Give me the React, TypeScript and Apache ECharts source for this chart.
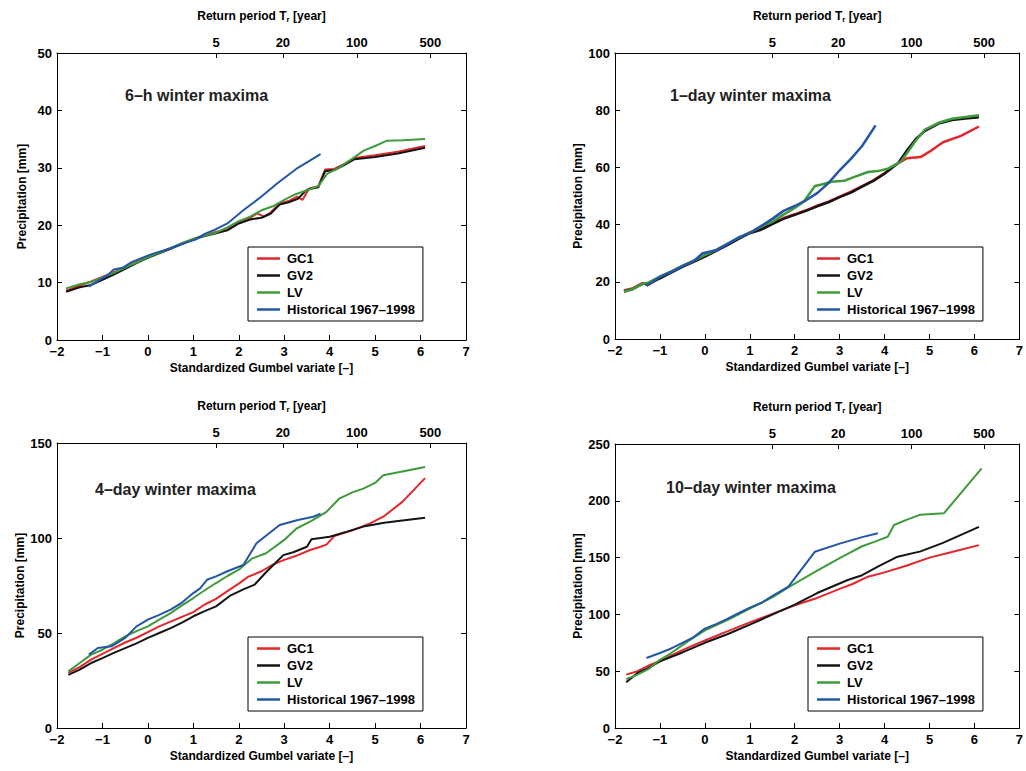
import React, { useEffect, useRef } from "react";
import * as echarts from "echarts";

const FONT = '"Liberation Sans", Arial, Helvetica, sans-serif';

const seriesNames = ["GC1", "GV2", "LV", "Historical 1967\u20131998"];
const seriesColors = ["#e3262b", "#141414", "#3f9a3c", "#2356a8"];

const panelTitles = ["6\u2013h winter maxima", "1\u2013day winter maxima", "4\u2013day winter maxima", "10\u2013day winter maxima"];
const yMax = [50, 100, 150, 250];
const yInterval = [10, 20, 50, 50];
const returnPeriods = [5, 20, 100, 500];

// 6-h winter maxima
const gc1_6h = [[-1.8,8.6],[-1.5,9.5],[-1.25,10.2],[-1.0,11.0],[-0.75,11.8],[-0.5,12.6],[-0.25,13.6],[0,14.5],[0.25,15.3],[0.5,16.0],[0.75,16.8],[1.0,17.6],[1.25,18.3],[1.5,18.8],[1.75,19.3],[2.0,20.4],[2.25,21.2],[2.4,22.1],[2.55,21.5],[2.7,22.2],[2.9,23.8],[3.1,24.2],[3.28,25.0],[3.4,24.4],[3.55,26.4],[3.75,26.8],[3.9,29.7],[4.1,29.8],[4.3,30.6],[4.55,31.7],[5.0,32.2],[5.5,32.8],[6.1,33.8]];
const gv2_6h = [[-1.8,8.4],[-1.5,9.2],[-1.25,9.6],[-1.0,10.5],[-0.75,11.4],[-0.5,12.4],[-0.25,13.4],[0,14.3],[0.25,15.1],[0.5,15.9],[0.75,16.7],[1.0,17.5],[1.25,18.1],[1.5,18.6],[1.75,19.1],[2.0,20.3],[2.25,21.0],[2.5,21.3],[2.7,22.0],[2.9,23.6],[3.1,24.0],[3.3,24.6],[3.5,26.2],[3.75,26.6],[3.9,29.4],[4.1,29.6],[4.3,30.4],[4.55,31.5],[5.0,31.9],[5.5,32.5],[6.1,33.5]];
const lv_6h = [[-1.8,9.0],[-1.5,9.7],[-1.25,10.1],[-1.0,10.9],[-0.75,11.7],[-0.5,12.6],[-0.25,13.5],[0,14.4],[0.25,15.2],[0.5,16.0],[0.75,16.9],[1.0,17.6],[1.25,18.2],[1.5,18.7],[1.75,19.6],[2.0,20.7],[2.25,21.5],[2.5,22.6],[2.75,23.3],[3.0,24.4],[3.25,25.4],[3.5,26.1],[3.75,26.8],[3.95,29.0],[4.2,30.0],[4.5,31.6],[4.75,33.0],[5.0,33.8],[5.25,34.7],[5.6,34.8],[6.1,35.0]];
const hist_6h = [[-1.3,9.3],[-1.1,10.3],[-0.9,11.2],[-0.75,12.3],[-0.55,12.6],[-0.35,13.6],[-0.1,14.4],[0.1,15.0],[0.35,15.6],[0.6,16.3],[0.85,17.0],[1.05,17.5],[1.25,18.5],[1.5,19.3],[1.75,20.3],[2.1,22.6],[2.5,25.0],[2.85,27.3],[3.3,30.0],[3.8,32.4]];

// 1-day winter maxima
const gc1_1d = [[-1.8,17.0],[-1.6,17.8],[-1.4,19.5],[-1.25,19.0],[-1.0,21.5],[-0.75,23.5],[-0.5,25.5],[-0.25,27.3],[0,29.0],[0.25,31.0],[0.5,33.0],[0.75,35.2],[1.0,37.3],[1.25,38.5],[1.5,40.5],[1.75,42.3],[2.0,43.6],[2.25,45.0],[2.5,46.6],[2.75,48.0],[3.0,49.8],[3.25,51.5],[3.5,53.5],[3.75,55.5],[4.0,58.0],[4.2,60.5],[4.5,63.2],[4.8,63.6],[5.0,65.5],[5.3,68.8],[5.7,71.0],[6.1,74.3]];
const gv2_1d = [[-1.8,16.6],[-1.6,17.5],[-1.4,19.2],[-1.25,19.4],[-1.0,21.2],[-0.75,23.2],[-0.5,25.2],[-0.25,27.0],[0,28.8],[0.25,30.8],[0.5,32.8],[0.75,35.0],[1.0,37.0],[1.25,38.2],[1.5,40.2],[1.75,42.0],[2.0,43.4],[2.25,44.8],[2.5,46.4],[2.75,47.8],[3.0,49.6],[3.25,51.2],[3.5,53.3],[3.75,55.3],[4.0,57.8],[4.3,61.5],[4.5,66.0],[4.7,70.0],[4.9,72.8],[5.2,75.3],[5.5,76.6],[5.8,77.1],[6.1,77.5]];
const lv_1d = [[-1.8,16.5],[-1.6,17.5],[-1.4,19.2],[-1.25,19.8],[-1.0,21.8],[-0.75,23.6],[-0.5,25.6],[-0.25,27.4],[0,29.3],[0.25,31.2],[0.5,33.3],[0.75,35.4],[1.0,37.2],[1.25,39.3],[1.5,41.0],[1.75,43.5],[2.0,45.8],[2.2,48.0],[2.45,53.5],[2.6,54.0],[2.82,55.0],[3.1,55.3],[3.3,56.5],[3.63,58.4],[3.85,58.7],[4.07,59.5],[4.36,62.0],[4.5,65.0],[4.7,69.5],[4.9,73.2],[5.2,75.6],[5.5,77.0],[5.8,77.6],[6.1,78.2]];
const hist_1d = [[-1.3,18.5],[-1.0,21.8],[-0.75,23.5],[-0.5,25.5],[-0.25,27.2],[-0.05,30.0],[0.25,31.0],[0.5,33.2],[0.75,35.5],[1.0,37.0],[1.25,39.5],[1.5,42.0],[1.75,44.8],[2.0,46.5],[2.25,48.5],[2.5,51.0],[2.75,54.5],[3.0,59.0],[3.25,63.0],[3.5,67.5],[3.8,74.7]];

// 4-day winter maxima
const gc1_4d = [[-1.75,29],[-1.5,32],[-1.25,36],[-1.0,39],[-0.75,42],[-0.5,45],[-0.25,47.5],[0,50.5],[0.25,53.5],[0.5,56],[0.75,58.5],[1.0,61],[1.25,65],[1.5,68],[1.75,72],[2.0,76],[2.2,79.5],[2.5,82.5],[2.75,86],[3.0,88.5],[3.25,90.5],[3.57,93.7],[3.75,95],[3.93,96.5],[4.1,101],[4.5,104],[4.89,107.7],[5.18,111.2],[5.6,119],[6.1,131.5]];
const gv2_4d = [[-1.75,28],[-1.5,30.7],[-1.25,34.2],[-1.0,36.8],[-0.75,39.5],[-0.5,42],[-0.25,44.5],[0,47.4],[0.25,50],[0.5,52.6],[0.75,55.5],[1.0,58.8],[1.25,61.5],[1.5,64],[1.8,69.5],[2.1,73],[2.35,75.5],[2.6,82],[2.8,86.7],[2.98,91],[3.2,92.5],[3.5,95.4],[3.6,99.3],[4.0,100.7],[4.4,103.5],[4.74,106],[5.2,108],[5.6,109.2],[6.1,110.7]];
const lv_4d = [[-1.75,29.8],[-1.5,34.2],[-1.25,38.6],[-1.0,41.2],[-0.75,44.5],[-0.5,48.2],[-0.25,51],[0,53.5],[0.25,57],[0.5,60.5],[0.75,64.5],[1.0,68.4],[1.25,72.5],[1.5,76.3],[1.75,80],[2.0,83.3],[2.3,89.3],[2.6,92],[3.0,99],[3.27,105],[3.6,109],[3.93,113.8],[4.22,120.9],[4.5,124],[4.74,126],[5.0,129],[5.18,133],[5.6,135],[6.1,137.4]];
const hist_4d = [[-1.3,38.6],[-1.1,42.1],[-0.8,43],[-0.5,47.4],[-0.25,53.5],[0,57],[0.25,59.5],[0.5,62.3],[0.75,66],[1.0,71],[1.15,73.5],[1.3,78],[1.5,79.8],[1.75,82.5],[2.1,85.8],[2.39,97.2],[2.9,106.8],[3.3,109.5],[3.64,111.2],[3.8,112.8]];

// 10-day winter maxima
const gc1_10d = [[-1.75,47],[-1.5,50],[-1.25,55],[-1.0,59],[-0.5,68.5],[0,77],[0.5,85],[1.0,93],[1.5,100.5],[2.0,108],[2.5,114.5],[3.0,122.5],[3.3,127],[3.63,133.2],[4.0,137],[4.5,143],[5.0,150],[5.5,155],[6.1,161]];
const gv2_10d = [[-1.75,40.2],[-1.5,48.4],[-1.25,53],[-1.0,58.7],[-0.5,66.5],[0,75],[0.5,82.5],[1.0,91],[1.5,99.8],[2.0,108.6],[2.5,118.8],[3.18,130.3],[3.5,134.5],[3.85,142],[4.29,150.8],[4.8,155.5],[5.3,163],[5.7,170],[6.1,177]];
const lv_10d = [[-1.75,43],[-1.5,47],[-1.25,52],[-1.0,60],[-0.75,66],[-0.5,73],[-0.25,79.5],[0,86],[0.5,95],[1.0,105],[1.5,115],[1.85,123.5],[2.0,127],[2.5,138.5],[3.0,149.6],[3.5,160],[3.8,164.3],[4.07,168.4],[4.21,178.7],[4.5,183.4],[4.8,187.8],[5.32,189],[6.16,228.6]];
const hist_10d = [[-1.3,61.6],[-1.0,66],[-0.75,70],[-0.5,75],[-0.25,80],[0,87.5],[0.25,91.5],[0.5,96],[0.75,101],[1.0,106],[1.25,110],[1.5,116],[1.86,124.4],[2.45,155.2],[3.0,162.3],[3.5,168],[3.85,171.4]];

const panelData = [
  [gc1_6h, gv2_6h, lv_6h, hist_6h],
  [gc1_1d, gv2_1d, lv_1d, hist_1d],
  [gc1_4d, gv2_4d, lv_4d, hist_4d],
  [gc1_10d, gv2_10d, lv_10d, hist_10d],
];

// layout (pixels)
const grids = [
  { left: 57, top: 53, width: 409, height: 287 },
  { left: 615, top: 53, width: 408, height: 286 },
  { left: 57, top: 443, width: 409, height: 285 },
  { left: 615, top: 444, width: 408, height: 284 },
];
const legendPos = [
  { left: 248, top: 247 },
  { left: 808, top: 247 },
  { left: 248, top: 637 },
  { left: 808, top: 637 },
];
const titlePos = [
  { x: 125, y: 95 },
  { x: 670, y: 95 },
  { x: 95, y: 489 },
  { x: 666, y: 487 },
];

const gumbel = (T: number) => -Math.log(-Math.log(1 - 1 / T));

export default function App() {
  const ref = useRef<HTMLDivElement>(null);
  useEffect(() => {
    if (!ref.current) return;
    const chart = echarts.init(ref.current, null, { renderer: "svg" });
    const topTicks = returnPeriods.map(gumbel);
    const labelStyle = { fontFamily: FONT, fontWeight: "bold" as const, fontSize: 13, color: "#000" };
    const nameStyle = { fontFamily: FONT, fontWeight: "bold" as const, fontSize: 12, color: "#000" };
    const line = { show: true, lineStyle: { color: "#000", width: 1 } };
    const tick = { show: true, inside: true, length: 5, lineStyle: { color: "#000" } };

    const xAxis: any[] = [];
    const yAxis: any[] = [];
    const series: any[] = [];
    const legend: any[] = [];
    const graphic: any[] = [];

    grids.forEach((g, i) => {
      xAxis.push({
        type: "value", gridIndex: i, position: "bottom", min: -2, max: 7, interval: 1,
        axisLine: { ...line, onZero: false }, axisTick: tick, splitLine: { show: false },
        axisLabel: { ...labelStyle, margin: 5, formatter: (v: number) => (v < 0 ? "\u2212" + Math.abs(v) : String(v)) },
        name: "Standardized Gumbel variate [\u2013]", nameLocation: "middle", nameGap: 22, nameTextStyle: nameStyle,
      });
      xAxis.push({
        type: "value", gridIndex: i, position: "top", min: -2, max: 7,
        axisLine: { ...line, onZero: false },
        axisTick: { ...tick, customValues: topTicks },
        splitLine: { show: false },
        axisLabel: {
          ...labelStyle, margin: 4, customValues: topTicks,
          formatter: (v: number) => {
            let best = 0;
            topTicks.forEach((t, k) => { if (Math.abs(t - v) < Math.abs(topTicks[best] - v)) best = k; });
            return String(returnPeriods[best]);
          },
        },
        name: "Return period T{s|r} [year]", nameLocation: "middle", nameGap: 30,
        nameTextStyle: { ...nameStyle, rich: { s: { fontFamily: FONT, fontWeight: "bold", fontSize: 8, color: "#000", padding: [7, 0, 0, 0] } } },
      });
      yAxis.push({
        type: "value", gridIndex: i, position: "left", min: 0, max: yMax[i], interval: yInterval[i],
        axisLine: { ...line, onZero: false }, axisTick: tick, splitLine: { show: false },
        axisLabel: { ...labelStyle, margin: 5 },
        name: "Precipitation [mm]", nameLocation: "middle", nameGap: 29, nameRotate: 90, nameTextStyle: nameStyle,
      });
      yAxis.push({
        type: "value", gridIndex: i, position: "right", min: 0, max: yMax[i], interval: yInterval[i],
        axisLine: { ...line, onZero: false }, axisTick: tick, splitLine: { show: false },
        axisLabel: { show: false },
      });
      panelData[i].forEach((d, k) => {
        series.push({
          type: "line", name: seriesNames[k], xAxisIndex: 2 * i, yAxisIndex: 2 * i,
          data: d, symbol: "none", showSymbol: false,
          lineStyle: { color: seriesColors[k], width: i === 1 ? 2.5 : 2 }, itemStyle: { color: seriesColors[k] },
          z: 3, silent: true,
        });
      });
      legend.push({
        data: seriesNames.map((n) => ({ name: n, icon: "path://M0,0 L23,0 L23,2.5 L0,2.5 Z" })),
        orient: "vertical", left: legendPos[i].left, top: legendPos[i].top,
        backgroundColor: "#fff", borderColor: "#000", borderWidth: 1,
        padding: [5, 8, 5, 9], itemGap: 4, itemWidth: 23, itemHeight: 13, selectedMode: false,
        textStyle: { ...labelStyle, padding: [0, 0, 0, 2] },
      });
      graphic.push({
        type: "text", x: titlePos[i].x, y: titlePos[i].y,
        style: { text: panelTitles[i], font: `bold 16px ${FONT}`, fill: "#222", verticalAlign: "middle" },
      });
    });

    chart.setOption({
      animation: false,
      backgroundColor: "#fff",
      grid: grids.map((g) => ({ ...g, containLabel: false })),
      xAxis, yAxis, series, legend, graphic,
    });
    return () => chart.dispose();
  }, []);
  return <div ref={ref} style={{ position: "absolute", left: 0, top: 0, width: 1026, height: 771 }} />;
}
